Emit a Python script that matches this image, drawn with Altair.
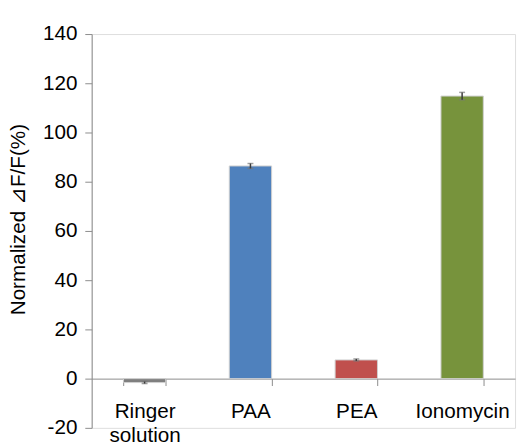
import altair as alt
import pandas as pd

categories = ["Ringer solution", "PAA", "PEA", "Ionomycin"]
values = [-1.6, 86.4, 7.6, 114.8]
errors = [0.4, 1.0, 0.4, 1.5]
colors = ["#7f7f7f", "#4f81bd", "#c0504d", "#77933c"]
y_ticks = [-20, 0, 20, 40, 60, 80, 100, 120, 140]

df = pd.DataFrame({
    "cat": categories,
    "val": values,
    "lo": [v - e for v, e in zip(values, errors)],
    "hi": [v + e for v, e in zip(values, errors)],
    "color": colors,
})

FONT = "Liberation Sans"
AXIS_COLOR = "#8c8c8c"
Y_TITLE = "Normalized  ⊿F/F(%)"

x_enc = alt.X(
    "cat:N",
    sort=categories,
    scale=alt.Scale(paddingInner=0.6, paddingOuter=0.3),
    axis=alt.Axis(
        title=None,
        orient="bottom",
        offset=-50,
        tickBand="extent",
        tickSize=7,
        tickColor=AXIS_COLOR,
        domainColor=AXIS_COLOR,
        labelAngle=0,
        labelFont=FONT,
        labelFontSize=21,
        labelColor="#000000",
        labelPadding=15,
        labelLineHeight=25,
        labelExpr="split(datum.label, ' ')",
    ),
)

y_scale = alt.Scale(domain=[-20, 140], nice=False, zero=False)

y_axis = alt.Axis(
    values=y_ticks,
    title=Y_TITLE,
    titleFont=FONT,
    titleFontSize=21,
    titleFontWeight="normal",
    titleColor="#000000",
    titleAngle=-90,
    titleX=-74,
    titleY=188,
    titleAlign="center",
    titleBaseline="middle",
    labelFont=FONT,
    labelFontSize=21,
    labelColor="#000000",
    labelPadding=8,
    labelExpr="toString(datum.value)",
    tickSize=7,
    tickColor=AXIS_COLOR,
    domainColor=AXIS_COLOR,
    grid=False,
)

bars = alt.Chart(df).mark_bar(stroke="#d0d0d0", strokeWidth=1).encode(
    x=x_enc,
    y=alt.Y("val:Q", scale=y_scale, axis=y_axis, title=Y_TITLE),
    y2=alt.datum(0),
    color=alt.Color("cat:N", scale=alt.Scale(domain=categories, range=colors), legend=None),
)

err = alt.Chart(df).mark_errorbar(ticks=alt.MarkConfig(size=6, color="#777777"), color="#3a3a3a", thickness=1.5).encode(
    x=alt.X("cat:N", sort=categories),
    y=alt.Y("lo:Q", scale=y_scale, title=Y_TITLE),
    y2="hi:Q",
)

chart = alt.layer(bars, err).properties(
    width=430,
    height=400,
    autosize=alt.AutoSizeParams(type="none"),
    padding={"left": 85, "top": 23, "right": 3, "bottom": 17},
).configure_view(stroke=None).configure(background="white")

chart.save("out.html", embed_options={"renderer": "svg", "actions": False})
